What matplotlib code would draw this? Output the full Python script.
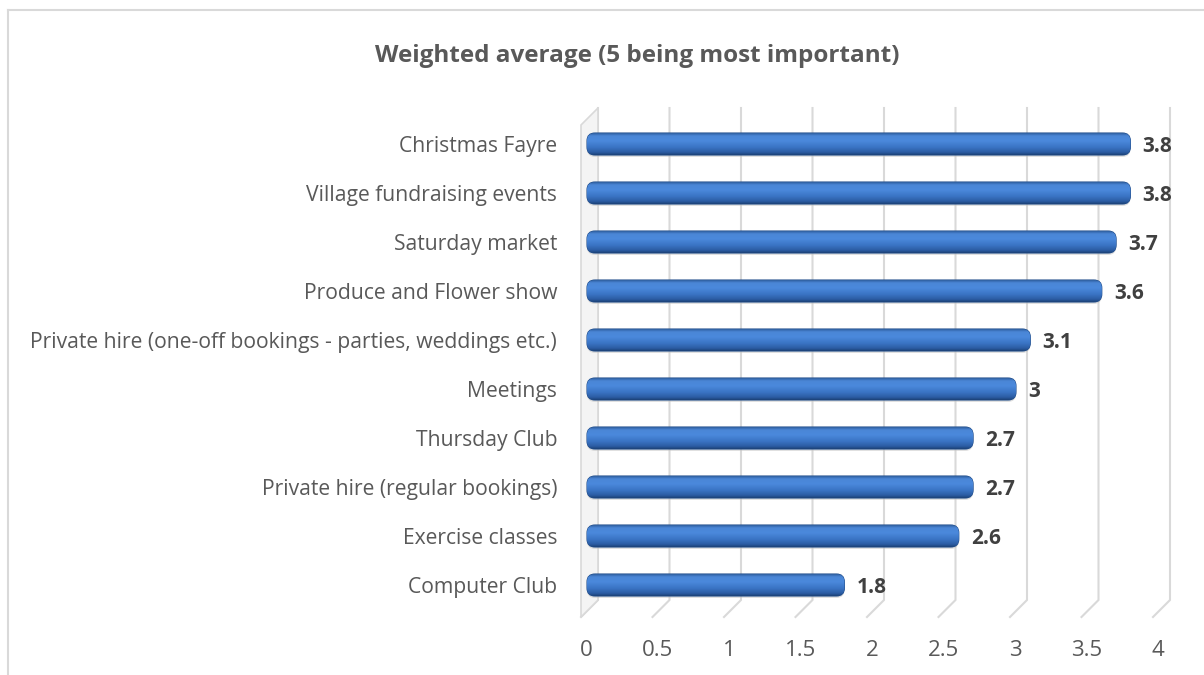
import numpy as np
import matplotlib
matplotlib.use("Agg")
import matplotlib.pyplot as plt
from matplotlib.patches import FancyBboxPatch, Polygon
from matplotlib.colors import LinearSegmentedColormap

# ---------------- DATA ----------------
categories = [
    "Computer Club",
    "Exercise classes",
    "Private hire (regular bookings)",
    "Thursday Club",
    "Meetings",
    "Private hire (one-off bookings - parties, weddings etc.)",
    "Produce and Flower show",
    "Saturday market",
    "Village fundraising events",
    "Christmas Fayre",
]
values = [1.8, 2.6, 2.7, 2.7, 3.0, 3.1, 3.6, 3.7, 3.8, 3.8]
value_labels = ["1.8", "2.6", "2.7", "2.7", "3", "3.1", "3.6", "3.7", "3.8", "3.8"]
ticks = [0, 0.5, 1, 1.5, 2, 2.5, 3, 3.5, 4]
tick_labels = ["0", "0.5", "1", "1.5", "2", "2.5", "3", "3.5", "4"]
title = "Weighted average (5 being most important)"

plt.rcParams["font.family"] = ["Open Sans", "DejaVu Sans"]

W, H = 1204, 675
fig = plt.figure(figsize=(W / 100, H / 100), dpi=100)

# chart border (only top and left visible)
fig.add_artist(plt.Line2D([8 / W, 1.0], [1 - 10 / H, 1 - 10 / H], color="#d9d9d9", lw=1.5))
fig.add_artist(plt.Line2D([8 / W, 8 / W], [1 - 10 / H, 0], color="#d9d9d9", lw=1.5))

fig.text(637 / W, 1 - 56 / H, title, ha="center", va="center",
         fontsize=17.5, fontweight="bold", color="#595959")

# axes placed in pixels: 0 -> x=587, 1 unit = 143 px; bars 49 px apart
px_x0, px_unit = 587, 143.0
px_y0, px_step = 585, 49.0
ax_l, ax_r, ax_t, ax_b = 560, 1200, 95, 670
ax = fig.add_axes([ax_l / W, 1 - ax_b / H, (ax_r - ax_l) / W, (ax_b - ax_t) / H])
ax.set_xlim((ax_l - px_x0) / px_unit, (ax_r - px_x0) / px_unit)
ax.set_ylim((px_y0 - ax_b) / px_step, (px_y0 - ax_t) / px_step)
for s in ax.spines.values():
    s.set_visible(False)
ax.set_xticks([])


def dx(px):
    return px / px_unit


def ypx(p):
    return (px_y0 - p) / px_step


# back wall / floor gridlines (3D look)
y_top, y_back, y_front = ypx(108), ypx(600), ypx(617)
for t in ticks:
    xb = t + dx(11)
    xf = t - dx(6)
    ax.plot([xb, xb, xf], [y_top, y_back, y_front], color="#d9d9d9", lw=1.5,
            zorder=1, solid_joinstyle="miter")

# left side wall
wall = Polygon([[dx(11), ypx(108)], [dx(11), y_back], [-dx(6), y_front], [-dx(6), ypx(125)]],
               closed=True, facecolor="#f4f4f4", edgecolor="#d9d9d9", lw=1.2, zorder=1)
ax.add_patch(wall)

# bars with a cylinder-like gradient
cmap = LinearSegmentedColormap.from_list("bar", [
    (0.0, "#2f5f9f"), (0.12, "#4a86d6"), (0.35, "#4b89dc"),
    (0.65, "#3a74c4"), (0.88, "#2b5ca3"), (1.0, "#1c4277")])
grad = np.linspace(0, 1, 64).reshape(-1, 1)
bar_h = 22 / px_step
r_x = dx(8)
aspect = (8 / px_step) / r_x
for i, v in enumerate(values):
    y0 = i - bar_h / 2
    # soft shadow
    sh = FancyBboxPatch((0, y0 - 0.04), v, bar_h,
                        boxstyle=f"round,pad=0,rounding_size={r_x}",
                        mutation_aspect=aspect, facecolor="#bfbfbf", edgecolor="none",
                        alpha=0.5, zorder=2)
    ax.add_patch(sh)
    p = FancyBboxPatch((0, y0), v, bar_h,
                       boxstyle=f"round,pad=0,rounding_size={r_x}",
                       mutation_aspect=aspect, facecolor="#3a74c4",
                       edgecolor="#24508c", lw=0.8, zorder=3)
    ax.add_patch(p)
    im = ax.imshow(grad, cmap=cmap, aspect="auto", extent=(0, v, y0, y0 + bar_h),
                   origin="upper", zorder=3.5, interpolation="bilinear")
    im.set_clip_path(p)
    ax.text(v + dx(12), i - 0.05, value_labels[i], ha="left", va="center",
            fontsize=15, fontweight="bold", color="#404040", zorder=5)

ax.set_yticks(range(len(categories)))
ax.set_yticklabels(categories, fontsize=15.2, color="#595959")
ax.tick_params(axis="y", length=0, pad=2)

for t, lab in zip(ticks, tick_labels):
    ax.text(t - dx(1), ypx(650), lab, ha="center", va="center",
            fontsize=16, color="#595959", clip_on=False)

fig.savefig("out.png", dpi=100)
